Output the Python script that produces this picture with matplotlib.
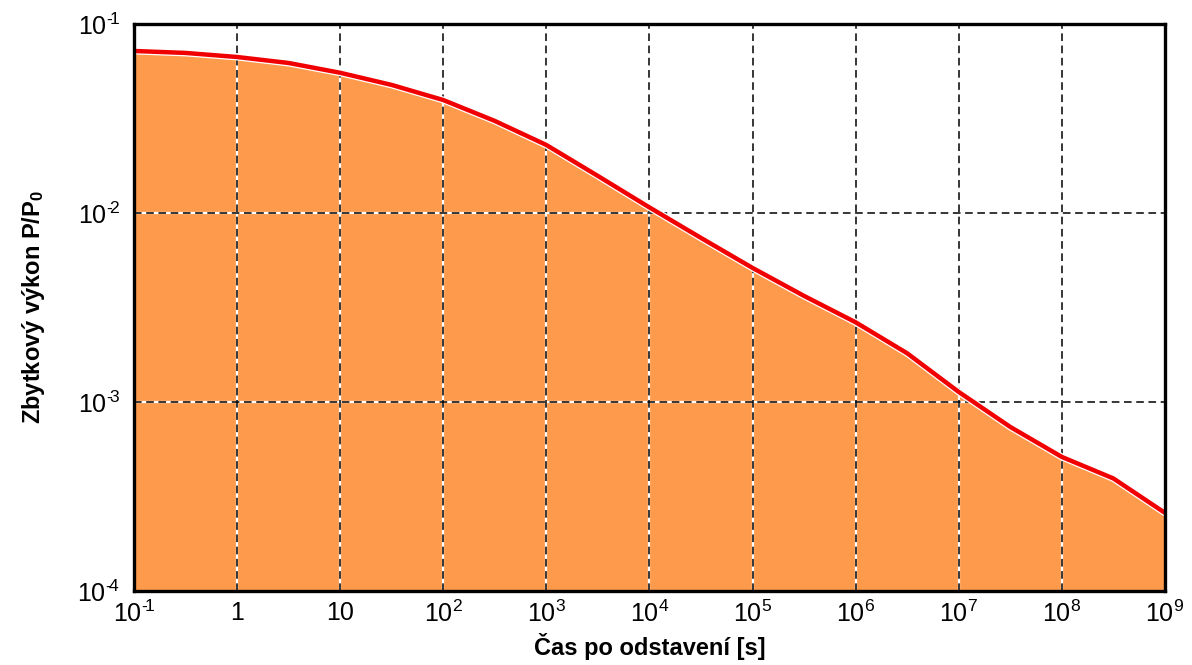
import numpy as np
import matplotlib.pyplot as plt
import matplotlib.patheffects as pe

plt.rcParams['font.family'] = ['Liberation Sans', 'DejaVu Sans']
plt.rcParams['mathtext.fontset'] = 'custom'
plt.rcParams['mathtext.rm'] = 'Liberation Sans'
plt.rcParams['mathtext.it'] = 'Liberation Sans'
plt.rcParams['mathtext.bf'] = 'Liberation Sans:bold'

# zbytkovy vykon po odstaveni reaktoru (odecteno po pul dekadach)
cas = [1e-1, 3.16e-1, 1, 3.16, 10, 31.6, 1e2, 316, 1e3, 3162, 1e4, 31623,
       1e5, 316228, 1e6, 3.16e6, 1e7, 3.16e7, 1e8, 3.16e8, 1e9]
vykon = [0.0720, 0.0703, 0.0669, 0.0622, 0.0552, 0.0476, 0.0396, 0.0307,
         0.0229, 0.0157, 0.0107, 0.00738, 0.00512, 0.00364, 0.00264,
         0.00181, 0.00113, 0.000738, 0.000512, 0.000394, 0.000259]

x_ticks = [10.0 ** k for k in range(-1, 10)]
x_labels = ['$10^{\u2010\\!1}$', '1', '10'] + ['$10^{%d}$' % k for k in range(2, 10)]
y_ticks = [1e-4, 1e-3, 1e-2, 1e-1]
y_labels = ['$10^{\u2010\\!%d}$' % k for k in (4, 3, 2, 1)]

fig = plt.figure(figsize=(11.92, 6.65), dpi=100)
ax = fig.add_axes([0.1124, 0.1113, 0.9773 - 0.1124, 0.9639 - 0.1113])

ax.set_xscale('log')
ax.set_yscale('log')
ax.set_xlim(1e-1, 1e9)
ax.set_ylim(1e-4, 1e-1)

ax.fill_between(cas, 1e-4, vykon, color='#FD9A4B', lw=0, zorder=1)

# mrizka: bile podlozeni + cerne carkovane cary
for xt in x_ticks[1:-1]:
    ax.axvline(xt, color='white', lw=1.6, zorder=2)
    ax.axvline(xt, color='black', lw=1.1, ls=(0, (5, 3)), zorder=3)
for yt in y_ticks[1:-1]:
    ax.axhline(yt, color='white', lw=1.6, zorder=2)
    ax.axhline(yt, color='black', lw=1.1, ls=(0, (5, 3)), zorder=3)

ax.plot(cas, vykon, color='#F00000', lw=3.2, solid_capstyle='round', zorder=4,
        path_effects=[pe.Stroke(linewidth=5, foreground='white'), pe.Normal()])

ax.set_xticks(x_ticks)
ax.set_xticklabels(x_labels)
ax.set_yticks(y_ticks)
ax.set_yticklabels(y_labels)
ax.minorticks_off()
ax.tick_params(length=0, labelsize=18)
ax.tick_params(axis='x', pad=7)
ax.tick_params(axis='y', pad=10)

for s in ax.spines.values():
    s.set_linewidth(2.4)
    s.set_zorder(5)

ax.set_xlabel('Čas po odstavení [s]', fontsize=17, fontweight='bold', labelpad=4)
ax.set_ylabel('Zbytkový výkon P/P$_\\mathbf{0}$', fontsize=17, fontweight='bold',
              family=['Liberation Sans Narrow', 'Liberation Sans'], labelpad=22)

fig.savefig('out.png', dpi=100)
